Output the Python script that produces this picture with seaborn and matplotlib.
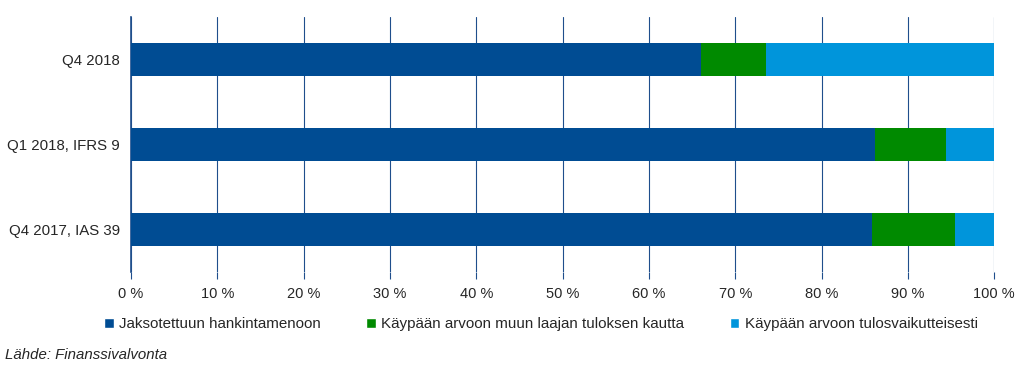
import seaborn as sns
import matplotlib.pyplot as plt
import pandas as pd
from matplotlib.ticker import FuncFormatter
from matplotlib.patches import Patch

periods = ["Q4 2018", "Q1 2018, IFRS 9", "Q4 2017, IAS 39"]
series = ["Jaksotettuun hankintamenoon",
          "Käypään arvoon muun laajan tuloksen kautta",
          "Käypään arvoon tulosvaikutteisesti"]
amortised = [66.0, 86.2, 85.8]
fvoci = [7.5, 8.2, 9.6]
fvpl = [26.5, 5.6, 4.6]
colors = ["#004C93", "#008A00", "#0095DB"]
axis_col = "#1F4E8C"

sns.set_style("white")
plt.rcParams["font.family"] = ["Liberation Sans", "DejaVu Sans"]

df = pd.DataFrame({"period": periods, series[0]: amortised,
                   series[1]: fvoci, series[2]: fvpl})
cum = df[series].cumsum(axis=1)

fig = plt.figure(figsize=(10.24, 3.76), dpi=100)
ax = fig.add_axes([0.128, 0.277, 0.843, 0.678])

# stacked bars: draw cumulative totals from largest to smallest
for name, col in reversed(list(zip(series, colors))):
    sns.barplot(x=cum[name], y=df["period"], color=col, orient="h",
                width=0.39, ax=ax, zorder=3, saturation=1, linewidth=0)

ax.set_xlim(0, 100)
ax.set_ylim(2.5, -0.5)
ax.set_xticks(range(0, 101, 10))
ax.xaxis.set_major_formatter(FuncFormatter(lambda v, p: f"{v:.0f} %"))
ax.grid(axis="x", color=axis_col, linewidth=0.8, zorder=0)
ax.set_xlabel("")
ax.set_ylabel("")

for s in ["top", "right", "bottom"]:
    ax.spines[s].set_visible(False)
ax.spines["left"].set_color(axis_col)
ax.spines["left"].set_linewidth(1.2)

ax.set_yticks([-0.5, 0.5, 1.5, 2.5], minor=True)
ax.tick_params(axis="y", which="major", length=0, labelsize=10.8, pad=8)
ax.tick_params(axis="y", which="minor", length=5, color=axis_col, direction="out")
ax.tick_params(axis="x", length=5, width=0.8, color=axis_col, labelsize=10.5,
               pad=6, direction="out", bottom=True)

handles = [Patch(facecolor=c, label=n) for n, c in zip(series, colors)]
fig.legend(handles=handles, loc="center", bbox_to_anchor=(0.528, 0.138), ncol=3,
           frameon=False, fontsize=10.9, handlelength=0.65, handleheight=0.65,
           handletextpad=0.35, columnspacing=3.0)

fig.text(0.005, 0.045, "Lähde: Finanssivalvonta", fontsize=10.8, style="italic")

fig.savefig("out.png", dpi=100)
